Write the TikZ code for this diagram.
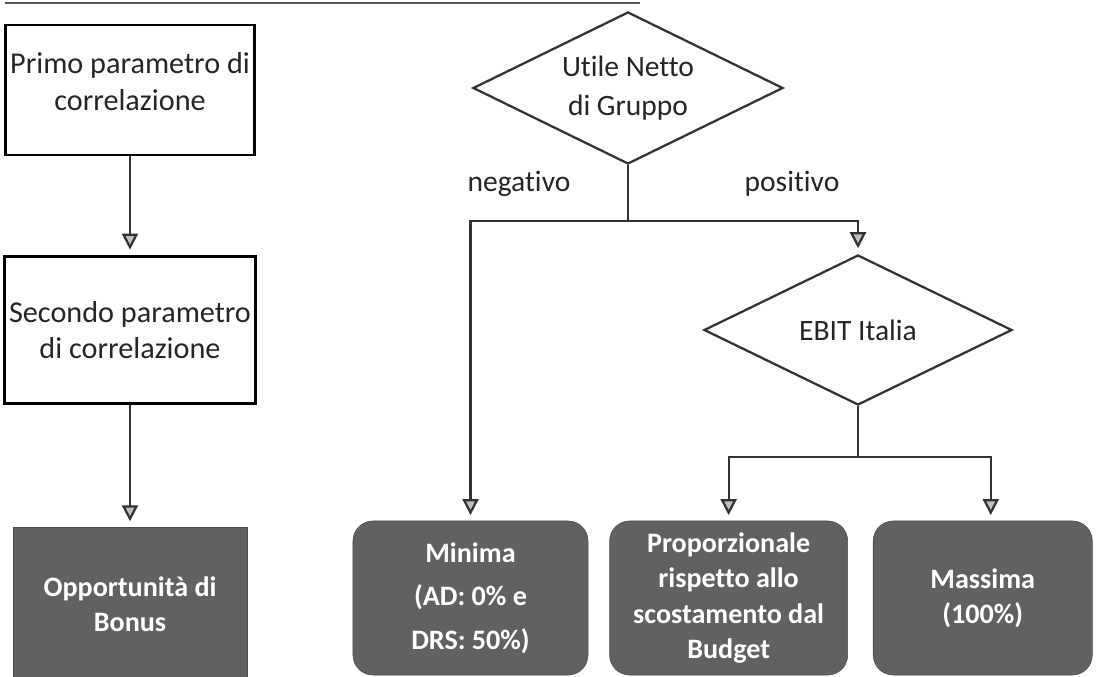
\documentclass[tikz,border=0pt]{standalone}
\usepackage{fontspec}
\setmainfont{Carlito}[Ligatures=NoCommon]
\usepackage{tikz}
\usetikzlibrary{positioning}
\usetikzlibrary{arrows.meta}
\usetikzlibrary{shapes.geometric}

\begin{document}
\begin{tikzpicture}[x=0.025cm,y=-0.025cm]
\tikzset{
    blocco/.style={rectangle, draw=black, line width=1.8pt, fill=white, text=black!85,
                   minimum width=6.1cm, minimum height=3.25cm, text centered, align=center,
                   font=\fontsize{21.5}{26}\selectfont},
    rombo/.style={diamond, aspect=2, draw=black!80, line width=1.6pt, fill=white, text=black!85,
                  inner sep=0pt, align=center, font=\fontsize{21}{28}\selectfont},
    esito/.style={rectangle, rounded corners=0.5cm, fill=black!62, draw=black!70,
                  minimum width=5.9cm, minimum height=3.85cm, text=white, align=center,
                  font=\bfseries\fontsize{20}{25}\selectfont},
    freccia/.style={-{Triangle[length=0.4cm, width=0.4cm, fill=black!25]}, draw=black!80,
                    line width=1.6pt, shorten >=4pt},
    linea/.style={draw=black!80, line width=1.6pt},
    etichetta/.style={text=black!85, font=\fontsize{21}{24}\selectfont}
}
\useasboundingbox (0,0) rectangle (1096,676);
\draw[black!65, line width=1.2pt] (5,3) -- (640,3);

% colonna di sinistra
\node[blocco] (primo) at (130,90) {Primo parametro di\\correlazione\\[-14pt]};
\node[blocco, minimum height=3.675cm, below=2.475cm of primo] (secondo) {Secondo parametro\\di correlazione};
\node[esito, rounded corners=0pt, minimum width=5.85cm, below=3.05cm of secondo] (bonus) {Opportunit\`a di\\Bonus};
\draw[freccia] (primo) -- (secondo);
\draw[freccia] (secondo) -- (bonus);

% albero delle decisioni
\node[rombo, minimum width=7.75cm, minimum height=3.8cm] (utile) at (628,88) {Utile Netto\\di Gruppo};
\node[rombo, minimum width=7.7cm, minimum height=3.75cm] (ebit) at (858,330) {EBIT Italia};

\node[esito, minimum width=5.875cm, font=\bfseries\fontsize{20}{31}\selectfont] (minima) at (470.5,598) {Minima\\(AD: 0\% e\\DRS: 50\%)};
\node[esito, minimum width=5.95cm, right=0.525cm of minima] (proporz) {Proporzionale\\rispetto allo\\scostamento dal\\Budget};
\node[esito, minimum width=5.475cm, right=0.625cm of proporz] (massima) {Massima\\(100\%)};

\coordinate (bivio) at (628,221);
\coordinate (bivio2) at (858,457);
\draw[linea] (utile.south) -- (bivio);
\draw[freccia] (bivio) -| (minima.north);
\draw[freccia] (bivio) -| (ebit.north);
\draw[linea] (ebit.south) -- (bivio2);
\draw[freccia] (bivio2) -| (proporz.north);
\draw[freccia] (bivio2) -| ([xshift=0.2cm]massima.north);

\node[etichetta] (neg) at (519,184) {negativo};
\node[etichetta] (pos) at (792,184) {positivo};

\end{tikzpicture}
\end{document}
